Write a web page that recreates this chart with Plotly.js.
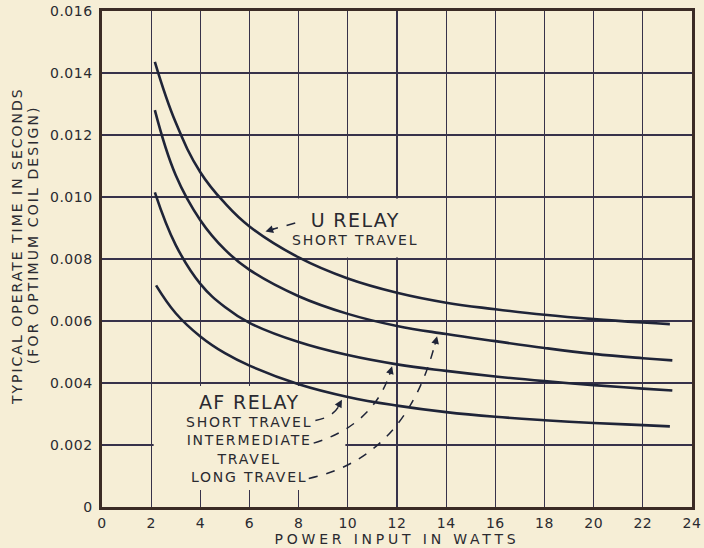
<!DOCTYPE html>
<html>
<head>
<meta charset="utf-8">
<script src="https://cdn.plot.ly/plotly-3.0.1.min.js"></script>
<style>
html,body{margin:0;padding:0;background:#f6eed6;}
#chart{width:704px;height:548px;}
#chart .xtitle{letter-spacing:3.8px;}
#chart .xtick text, #chart .ytick text{letter-spacing:0.5px;}
</style>
</head>
<body>
<div id="chart"></div>
<script>
// ---- data ----
const xTicks = [0,2,4,6,8,10,12,14,16,18,20,22,24];
const xTickText = ['0','2','4','6','8','10','12','14','16','18','20','22','24'];
const yTicks = [0,0.002,0.004,0.006,0.008,0.010,0.012,0.014,0.016];
const yTickText = ['0','0.002','0.004','0.006','0.008','0.010','0.012','0.014','0.016'];

const uShortX = [2.15,3,4,5,6,8,10,12,14,16,18,20,22,23.1];
const uShortY = [0.01436,0.0124,0.0108,0.0098,0.00905,0.00805,0.00737,0.00691,0.00659,0.00638,0.0062,0.00606,0.00595,0.0059];

const afLongX = [2.15,3,4,5,6,8,10,12,14,16,18,20,22,23.2];
const afLongY = [0.0128,0.0107,0.00925,0.0083,0.00765,0.0068,0.00623,0.00584,0.00558,0.00535,0.00513,0.00494,0.0048,0.00473];

const afInterX = [2.15,3,4,5,6,8,10,12,14,16,18,20,22,23.2];
const afInterY = [0.01015,0.00845,0.0072,0.00645,0.00594,0.00532,0.0049,0.0046,0.00439,0.00421,0.00406,0.00393,0.00382,0.00376];

const afShortX = [2.2,3,4,5,6,8,10,12,14,16,18,20,22,23.1];
const afShortY = [0.00715,0.00625,0.0055,0.00496,0.00456,0.00396,0.00355,0.00327,0.00306,0.00291,0.0028,0.00271,0.00264,0.0026];

const uLabel = ['U RELAY', 'SHORT TRAVEL'];
const afLabel = ['AF RELAY', 'SHORT TRAVEL', 'INTERMEDIATE', 'TRAVEL', 'LONG TRAVEL'];
const yTitle = ['TYPICAL OPERATE TIME IN SECONDS', '(FOR OPTIMUM COIL DESIGN)'];
const xTitle = 'POWER INPUT IN WATTS';

// ---- styling ----
const BG = '#f6eed6';
const INK = '#1f2438';
const TXT = '#2a2a30';
const FONT = 'DejaVu Sans, Verdana, sans-serif';

function curve(x, y, name){
  return {x:x, y:y, name:name, type:'scatter', mode:'lines',
          line:{color:INK, width:2.6, shape:'spline', smoothing:1.2},
          hoverinfo:'skip'};
}

const traces = [
  curve(uShortX, uShortY, 'U relay, short travel'),
  curve(afLongX, afLongY, 'AF relay, long travel'),
  curve(afInterX, afInterY, 'AF relay, intermediate travel'),
  curve(afShortX, afShortY, 'AF relay, short travel')
];

function block(lines, bigSize){
  return lines.map(function(s, i){
    return i === 0
      ? '<span style="font-size:' + bigSize + 'px;letter-spacing:1.4px">' + s + '</span>'
      : '<span style="letter-spacing:1.8px">' + s + '</span>';
  }).join('<br>');
}
function head(x, y, ax, ay){
  return {x:x, y:y, xref:'x', yref:'y', text:'', showarrow:true, ax:ax, ay:ay,
          arrowhead:2, arrowsize:1.1, arrowwidth:1.4, arrowcolor:INK, standoff:0, startstandoff:0};
}
function dashed(path){
  return {type:'path', xref:'x', yref:'y', path:path,
          line:{color:INK, width:1.5, dash:'dash'}, layer:'above'};
}

const annotations = [
  {x:10.3, y:0.00900, xref:'x', yref:'y', text:block(uLabel, 19), showarrow:false, align:'center',
   font:{family:FONT, size:14, color:TXT}, xanchor:'center', yanchor:'middle'},
  {x:5.96, y:0.00221, xref:'x', yref:'y', text:block(afLabel, 19), showarrow:false, align:'center',
   font:{family:FONT, size:14, color:TXT}, xanchor:'center', yanchor:'middle'},
  head(6.65, 0.00889, 10, -3),
  head(9.76, 0.00346, -5, 9),
  head(11.8, 0.00454, -3, 10),
  head(13.63, 0.00551, -2.5, 10),
  {x:0, y:0.526, xref:'paper', yref:'paper', xshift:-85,
   text:'<span style="letter-spacing:2px">' + yTitle[0] + '</span>',
   textangle:-90, showarrow:false, font:{family:FONT, size:14, color:TXT}, xanchor:'center', yanchor:'middle'},
  {x:0, y:0.548, xref:'paper', yref:'paper', xshift:-69,
   text:'<span style="letter-spacing:2.1px">' + yTitle[1] + '</span>',
   textangle:-90, showarrow:false, font:{family:FONT, size:14, color:TXT}, xanchor:'center', yanchor:'middle'}
];

const shapes = [
  // blank paper behind the labels (grid interrupted there)
  {type:'rect', xref:'x', yref:'y', x0:2.1, x1:9.9, y0:0.00055, y1:0.0039,
   fillcolor:BG, line:{width:0}, layer:'between'},
  {type:'rect', xref:'x', yref:'y', x0:6.1, x1:13.9, y0:0.00805, y1:0.00995,
   fillcolor:BG, line:{width:0}, layer:'between'},
  // dashed leaders
  dashed('M7.86,0.00916 L6.95,0.00896'),
  dashed('M8.68,0.00279 Q9.45,0.00290 9.68,0.00333'),
  dashed('M8.61,0.00206 Q11.08,0.00266 11.75,0.00440'),
  dashed('M8.41,0.00092 Q12.4,0.0016 13.58,0.00537')
];

const axisCommon = {
  showgrid:true, gridcolor:'#37324a', gridwidth:1.3,
  showline:true, linecolor:'#3b2b25', linewidth:2.6, mirror:true,
  zeroline:false, ticks:'',
  tickfont:{family:FONT, size:14, color:TXT}
};

const layout = {
  width:704, height:548,
  margin:{l:102, r:12, t:11, b:41, pad:0},
  paper_bgcolor:BG, plot_bgcolor:BG,
  showlegend:false, hovermode:false,
  xaxis:Object.assign({}, axisCommon, {
    range:[0,24], tickvals:xTicks, ticktext:xTickText, ticklabelstandoff:2,
    title:{text:xTitle, font:{family:FONT, size:14, color:TXT}, standoff:2}
  }),
  yaxis:Object.assign({}, axisCommon, {
    range:[0,0.016], tickvals:yTicks, ticktext:yTickText, ticklabelstandoff:4
  }),
  annotations:annotations,
  shapes:shapes
};

Plotly.newPlot('chart', traces, layout, {staticPlot:true, displayModeBar:false});
</script>
</body>
</html>
